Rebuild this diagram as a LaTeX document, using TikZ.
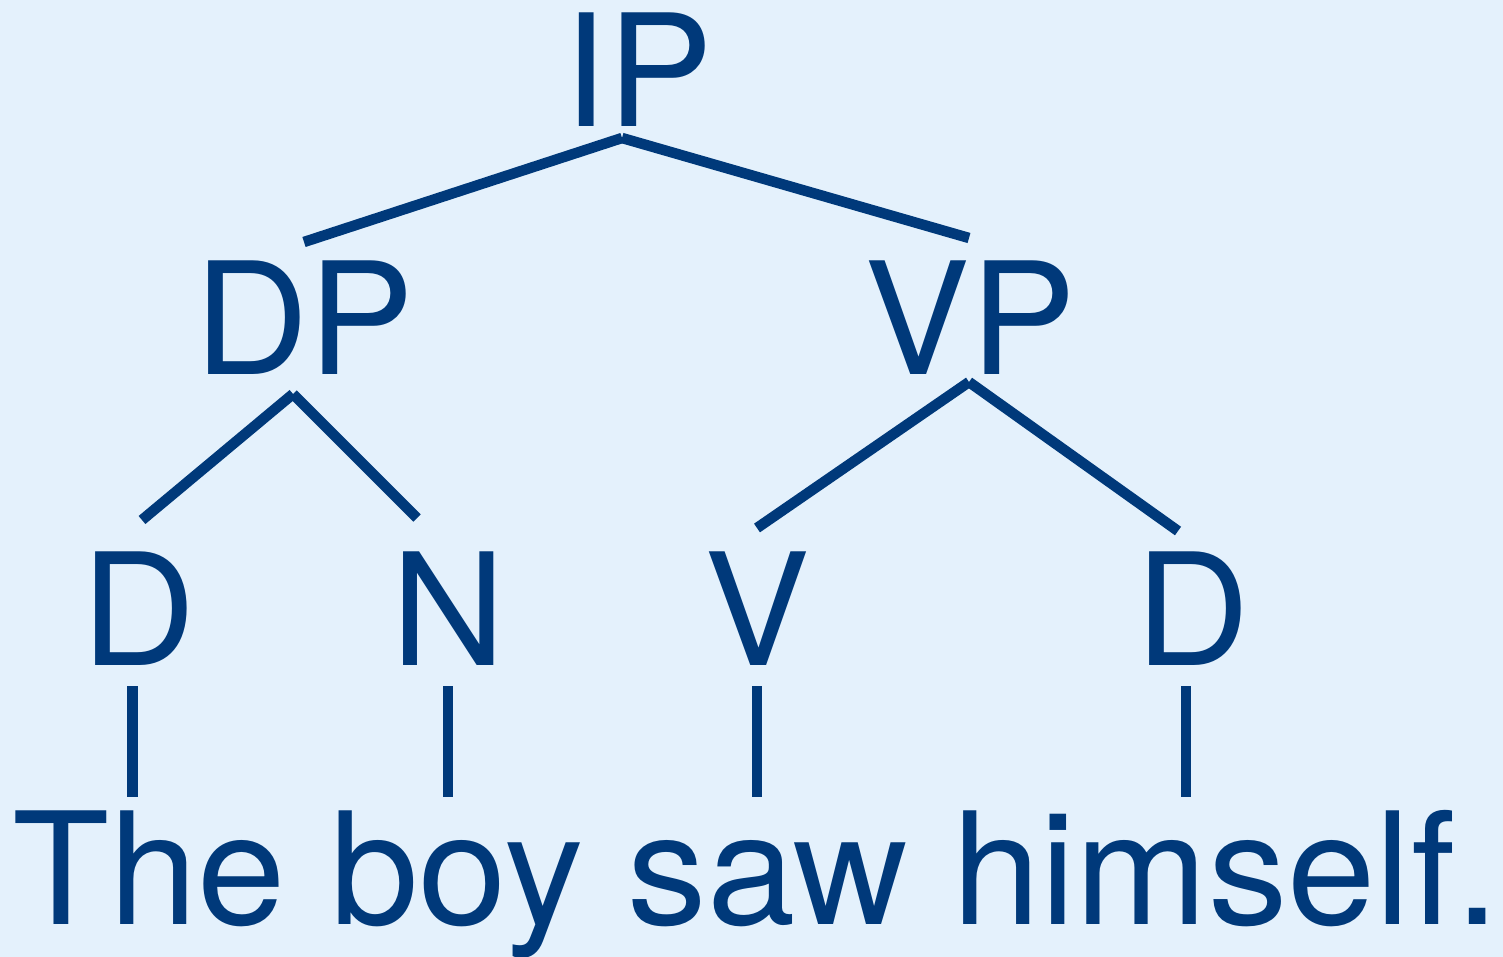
\documentclass[tikz,border=0pt]{standalone}
\usepackage{fontspec}
\setmainfont{TeX Gyre Heros}
\definecolor{treeink}{RGB}{0,57,122}
\definecolor{paper}{RGB}{228,241,252}
\begin{document}
\begin{tikzpicture}[x=0.5pt,y=-0.5pt,
  lbl/.style={anchor=base,inner sep=0pt,text=treeink,xscale=1.015,
    font=\fontsize{78}{90}\selectfont},
  branch/.style={draw=treeink,line width=5.25pt,line cap=butt}]
  % canvas
  \fill[paper] (0,0) rectangle (1503,957);
  \useasboundingbox (0,0) rectangle (1503,957);

  % category labels
  \node[lbl] (ip) at (638,127) {IP};
  \node[lbl] (dp) at (304,374) {DP};
  \node[lbl] (vp) at (970,374) {VP};
  \node[lbl] (d1) at (139,665) {D};
  \node[lbl] (n)  at (449,665) {N};
  \node[lbl] (v)  at (757,665) {V};
  \node[lbl] (d2) at (1193,665) {D};
  \node[lbl,xscale=1.019/1.015] (s) at (756,924) {The boy saw himself.};

  % branch end points
  \coordinate (ipT) at (622,138);
  \coordinate (dpU) at (304,242);
  \coordinate (vpU) at (969,238);
  \coordinate (dpT) at (293,394);
  \coordinate (d1U) at (142,520);
  \coordinate (nU)  at (417,518);
  \coordinate (vpT) at (969,382);
  \coordinate (vU)  at (757,528);
  \coordinate (d2U) at (1178,531);
  \coordinate (d1B) at (132.5,686);  \coordinate (w1) at (132.5,797);
  \coordinate (nB)  at (448,686);  \coordinate (w2) at (448,797);
  \coordinate (vB)  at (757,686);  \coordinate (w3) at (757,797);
  \coordinate (d2B) at (1186,686); \coordinate (w4) at (1186,797);

  % branches
  \draw[branch] (ipT) -- (dpU);
  \draw[branch] (ipT) -- (vpU);
  \draw[branch] (dpT) -- (d1U);
  \draw[branch] (dpT) -- (nU);
  \draw[branch] (vpT) -- (vU);
  \draw[branch] (vpT) -- (d2U);
  \draw[branch] (d1B) -- (w1);
  \draw[branch] (nB) -- (w2);
  \draw[branch] (vB) -- (w3);
  \draw[branch] (d2B) -- (w4);
\end{tikzpicture}
\end{document}
